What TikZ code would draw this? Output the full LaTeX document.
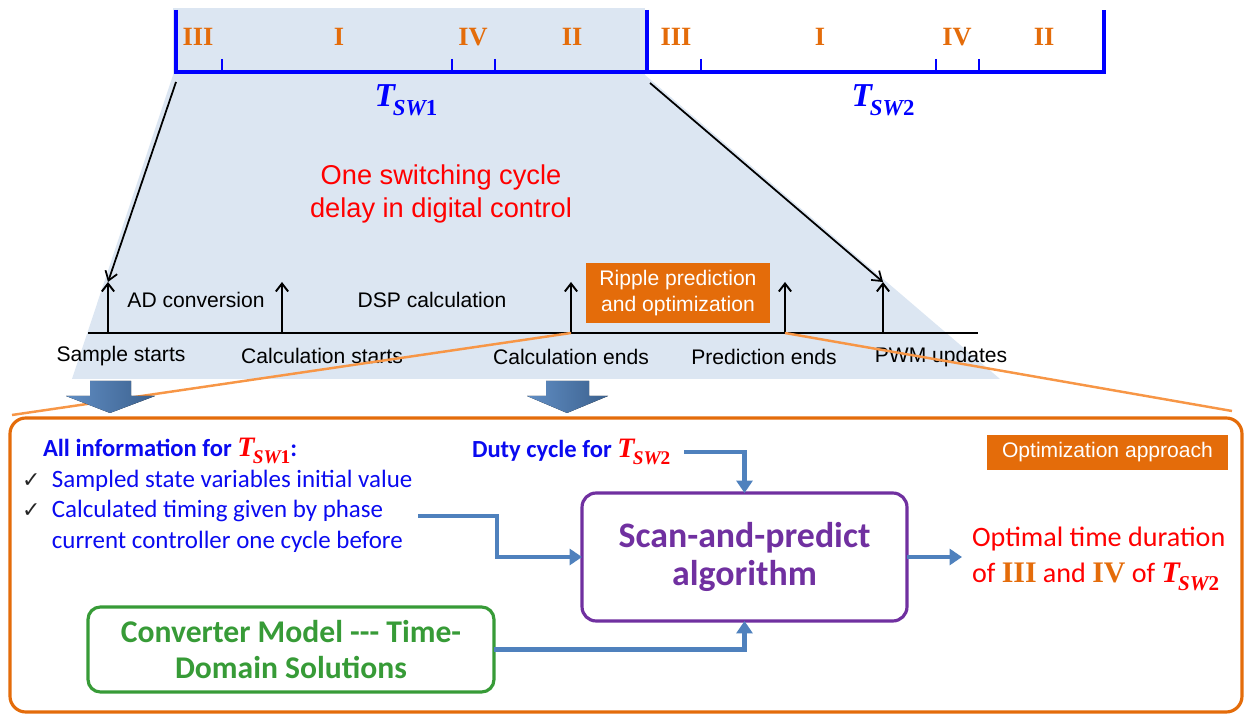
\documentclass[tikz,border=0pt]{standalone}
\usepackage{fontspec}
\usepackage{graphicx}
\setmainfont{Liberation Sans}
\newfontfamily\calfont{Carlito}
\newfontfamily\serfont{Liberation Serif}
\newfontfamily\symfont{DejaVu Sans}
\usetikzlibrary{arrows.meta,calc}

\definecolor{barblue}{RGB}{0,0,255}
\definecolor{shadeblue}{RGB}{220,230,242}
\definecolor{romorange}{RGB}{228,108,10}
\definecolor{boxorange}{RGB}{228,108,10}
\definecolor{zoomorange}{RGB}{247,150,70}
\definecolor{flowblue}{RGB}{79,129,189}
\definecolor{algopurple}{RGB}{112,48,160}
\definecolor{modelgreen}{RGB}{55,155,55}
\definecolor{txtblue}{RGB}{10,10,240}

% T_SW symbol: #1 size of T, #2 size of subscript, #3 index
\newcommand{\TSW}[3]{{\serfont\bfseries\itshape\fontsize{#1}{#1}\selectfont T\kern-0.06em\raisebox{-0.28em}{\fontsize{#2}{#2}\selectfont SW\upshape#3}}}
\newcommand{\Rom}[1]{{\serfont\bfseries\color{romorange}#1}}
\newcommand{\chk}{\makebox[17pt][l]{\symfont\color{black!85}\fontsize{12.5pt}{12.5pt}\selectfont ✓}}

\begin{document}
\begin{tikzpicture}[x=0.02cm,y=-0.02cm,
  every node/.style={inner sep=0pt, outer sep=0pt},
  bar/.style={draw=barblue, line width=2.4pt},
  tickmark/.style={draw=barblue, line width=1.4pt},
  roman/.style={text=romorange, font={\serfont\bfseries\fontsize{15pt}{17pt}\selectfont}},
  zoomarrow/.style={draw=black, line width=1pt, -{Straight Barb[length=5pt,width=7pt,line width=1pt]}},
  eventarrow/.style={draw=black, line width=1.1pt, -{Straight Barb[length=4.5pt,width=7pt,line width=1.1pt]}},
  toplabel/.style={font=\fontsize{12pt}{14pt}\selectfont, text=black},
  obox/.style={fill=boxorange, text=white, align=center, font=\fontsize{12pt}{14.5pt}\selectfont},
  zoomline/.style={draw=zoomorange, line width=1.4pt},
  blockarrow/.style={left color=flowblue!90!white, right color=flowblue!75!black},
  flow/.style={draw=flowblue, line width=2.8pt, -{Triangle[length=7pt,width=9pt]}},
  listtext/.style={text=txtblue, align=left, font={\calfont\fontsize{14.2pt}{17.3pt}\selectfont}},
  headtext/.style={text=txtblue, font={\calfont\bfseries\fontsize{14pt}{17pt}\selectfont}},
]
\useasboundingbox (0,0) rectangle (1244,715);

% zoomed region behind the first cycle
\fill[shadeblue] (173,8) rectangle (645,75);
\fill[shadeblue] (173,75) -- (645,75) -- (1000,379) -- (72,379) -- cycle;

% two switching cycles
\draw[bar] (176,10) -- (176,72) -- (1104,72) -- (1104,10);
\draw[bar] (647,10) -- (647,72);
\foreach \x in {222,452,495,701,936,979}
  \draw[tickmark] (\x,59) -- (\x,72);

\node[roman] (r1) at (198,37) {III};
\node[roman] (r2) at (339,37) {I};
\node[roman] (r3) at (473,37) {IV};
\node[roman] (r4) at (572,37) {II};
\node[roman] (r5) at (676,37) {III};
\node[roman] (r6) at (820,37) {I};
\node[roman] (r7) at (957,37) {IV};
\node[roman] (r8) at (1044,37) {II};

\node[text=barblue] (tsw1) at (406,100) {\TSW{19pt}{13pt}{1}};
\node[text=barblue] (tsw2) at (883,100) {\TSW{19pt}{13pt}{2}};

\node[text=red, align=center, font=\fontsize{15.5pt}{19.3pt}\selectfont] (delay) at (441,194)
  {One switching cycle\\delay in digital control};

% timeline of one cycle
\coordinate (tl0) at (88,333);
\coordinate (tl9) at (978,333);
\draw[black, line width=1.3pt] (tl0) -- (tl9);
\foreach \n/\x in {e1/108,e2/282,e3/571,e4/785,e5/883}{
  \coordinate (\n) at (\x,333);
  \coordinate (\n-tip) at (\x,282);
  \draw[eventarrow] (\n) -- (\n-tip);
}

\coordinate (bar0) at (176,82);
\coordinate (bar1) at (650,83);
\draw[zoomarrow] (bar0) -- (e1-tip);
\draw[zoomarrow] (bar1) -- (e5-tip);

\node[toplabel] (adc) at (196,300) {AD conversion};
\node[toplabel] (dsp) at (432,300) {DSP calculation};
\node[obox, minimum width=3.68cm, minimum height=1.2cm] (ripple) at (678,293)
  {Ripple prediction\\and optimization};

\node[toplabel] (l1) at (121,356) {Sample starts};
\node[toplabel] (l2) at (322,356) {Calculation starts};
\node[toplabel] (l3) at (571,357) {Calculation ends};
\node[toplabel] (l4) at (764,357) {Prediction ends};
\node[toplabel] (l5) at (941,357) {PWM updates};

% lines opening into the detail frame
\coordinate (z1) at (12,415);
\coordinate (z2) at (1232,411);
\draw[zoomline] (e3) -- (z1);
\draw[zoomline] (e4) -- (z2);

% block arrows
\fill[blockarrow] (90,381) -- (131,381) -- (131,396) -- (155,396) -- (110,413) -- (66,396) -- (90,396) -- cycle;
\fill[blockarrow] (546,381) -- (589,381) -- (589,396) -- (608,396) -- (567,413) -- (527,396) -- (546,396) -- cycle;

% detail frame
\draw[draw=boxorange, line width=1.8pt, rounded corners=9pt] (10,418) rectangle (1242,712);
\node[obox, minimum width=4.82cm, minimum height=0.7cm] (approach) at (1107.5,452.5) {Optimization approach};

\node[headtext, anchor=west] (infohead) at (43,451)
  {All information for {\color{red}\TSW{16pt}{11pt}{1}}:};
\node[listtext, anchor=north west] (infolist) at (22,470)
  {\chk Sampled state variables initial value\\
   \chk Calculated timing given by phase\\
   \hspace*{17pt}current controller one cycle before};

\node[headtext, anchor=west] (duty) at (472,452)
  {Duty cycle for {\color{red}\TSW{16pt}{11pt}{2}}};

\node[draw=algopurple, line width=1.8pt, rounded corners=8pt, minimum width=6.5cm, minimum height=2.56cm,
  text=algopurple, align=center, font={\calfont\bfseries\fontsize{20.4pt}{22pt}\selectfont}] (algo) at (744.5,557)
  {Scan-and-predict\\algorithm};

\node[draw=modelgreen, line width=1.8pt, rounded corners=7pt, minimum width=8.12cm, minimum height=1.7cm,
  text=modelgreen, align=center, font={\calfont\bfseries\fontsize{18pt}{20.4pt}\selectfont}] (model) at (291,649.5)
  {Converter Model --- Time-\\Domain Solutions};

\node[text=red, anchor=west, align=left, font={\calfont\fontsize{16pt}{20.4pt}\selectfont}] (result) at (972,559)
  {Optimal time duration\\of {\fontsize{17pt}{17pt}\selectfont\Rom{III}} and {\fontsize{17pt}{17pt}\selectfont\Rom{IV}} of \TSW{17pt}{12pt}{2}};

% information flow
\coordinate (c1) at (418,516);
\coordinate (c2) at (684,452);
\coordinate (c3) at (962,557);
\draw[flow] (c1) -- (497,516) |- (algo.west);
\draw[flow] (c2) -| (algo.north);
\draw[flow] (model.east) -| (algo.south);
\draw[flow] (algo.east) -- (c3);
\end{tikzpicture}
\end{document}
